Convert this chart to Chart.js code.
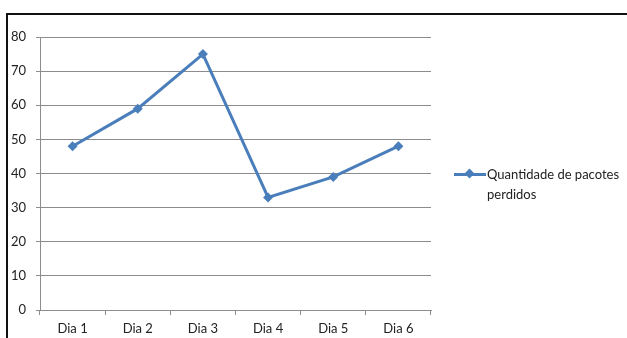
<!DOCTYPE html>
<html>
<head>
<meta charset="utf-8">
<script src="https://cdn.jsdelivr.net/npm/chart.js@4/dist/chart.umd.min.js"></script>
<style>
  html, body { margin: 0; padding: 0; background: #fff; }
  #wrap { position: relative; width: 627px; height: 338px; overflow: hidden; }
  #frame { position: absolute; left: 6px; top: 13px; right: -4px; bottom: -4px; border-top: 2px solid #111; border-left: 2px solid #111; }
  #legend { position: absolute; left: 454px; top: 164px; font-family: Lato, "Noto Sans", sans-serif; font-size: 13px; color: #222; line-height: 20px; }
  #legend .mark { position: absolute; left: 0; top: 9px; width: 32px; height: 3px; background: #4a7ebb; }
  #legend .mark::after { content: ""; position: absolute; left: 12px; top: -3px; width: 7px; height: 7px; background: #4a7ebb; transform: rotate(45deg); }
  #legend .txt { margin-left: 33px; }
</style>
</head>
<body>
<div id="wrap">
  <canvas id="chart" width="627" height="338"></canvas>
  <div id="frame"></div>
  <div id="legend"><span class="mark"></span><div class="txt">Quantidade de pacotes<br>perdidos</div></div>
</div>
<script>
// dados do grafico
const categorias = ['Dia 1', 'Dia 2', 'Dia 3', 'Dia 4', 'Dia 5', 'Dia 6'];
const pacotesPerdidos = [48, 59, 75, 33, 39, 48];
const nomeSerie = 'Quantidade de pacotes perdidos';

const ctx = document.getElementById('chart').getContext('2d');

new Chart(ctx, {
    type: 'line',
    data: {
        labels: categorias,
        datasets: [{
            label: nomeSerie,
            data: pacotesPerdidos,
            borderColor: '#4a7ebb',
            backgroundColor: '#4a7ebb',
            borderWidth: 3,
            tension: 0,
            pointStyle: 'rectRot',
            pointRadius: 5,
            pointBorderWidth: 0
        }]
    },
    options: {
        responsive: false,
        animation: false,
        layout: { padding: { left: 0, right: 196, top: 37, bottom: 0 } },
        plugins: { legend: { display: false }, tooltip: { enabled: false } },
        scales: {
            x: {
                offset: true,
                grid: { drawOnChartArea: false, drawTicks: true, tickLength: 5, offset: true, color: '#8c8c8c' },
                border: { color: '#8c8c8c', width: 1 },
                ticks: { color: '#222', padding: 6, font: { family: 'Lato', size: 13 } },
                afterFit: (s) => { s.height = 28; }
            },
            y: {
                min: 0, max: 80,
                ticks: { stepSize: 10, color: '#222', padding: 10, font: { family: 'Lato', size: 13 } },
                grid: { color: '#8c8c8c', tickLength: 4 },
                border: { color: '#8c8c8c', width: 1 },
                afterFit: (s) => { s.width = 40; }
            }
        }
    }
});
</script>
</body>
</html>
